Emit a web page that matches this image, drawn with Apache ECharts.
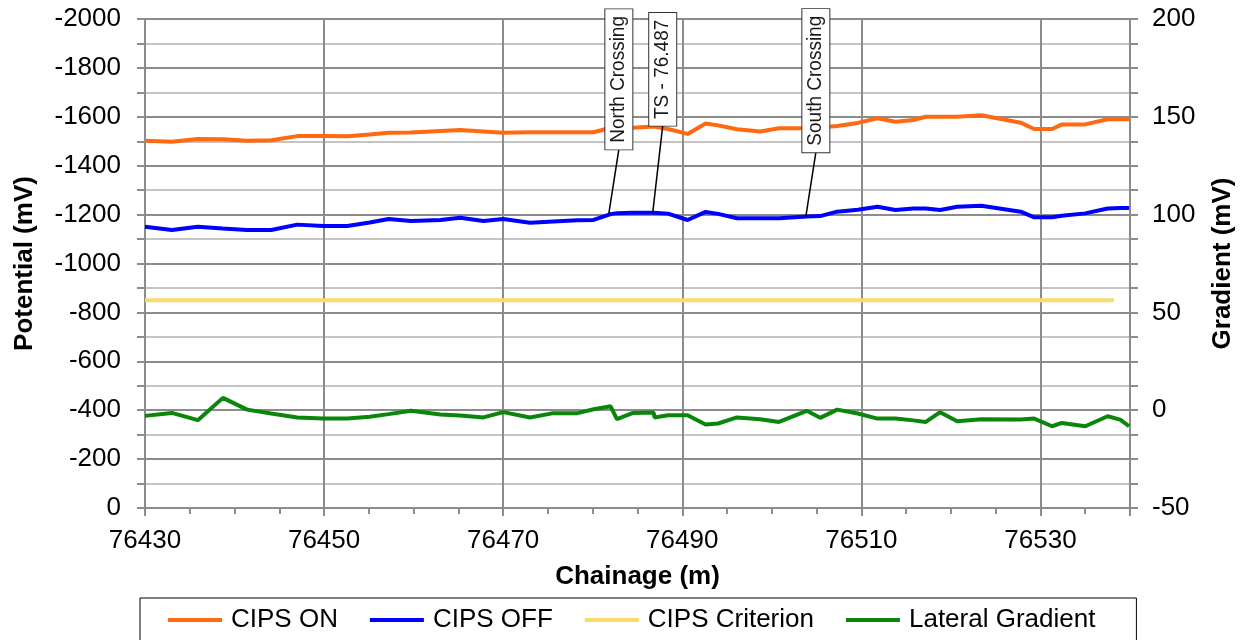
<!DOCTYPE html>
<html>
<head>
<meta charset="utf-8">
<title>CIPS Survey</title>
<script src="https://cdn.jsdelivr.net/npm/echarts@6/dist/echarts.min.js"></script>
<style>
  html, body { margin: 0; padding: 0; background: #ffffff; }
  #chart { width: 1245px; height: 640px; }
</style>
</head>
<body>
<div id="chart"></div>
<script>
// Survey chainage (m) shared by all survey traces
const chainage = [
  76430.0, 76433.0, 76435.9, 76438.7, 76441.4, 76444.1, 76447.0, 76449.9, 76452.6, 76455.1,
  76457.2, 76459.7, 76463.0, 76465.2, 76467.8, 76470.0, 76473.0, 76475.6, 76478.3, 76480.1,
  76482.0, 76482.7, 76484.5, 76486.8, 76486.9, 76488.4, 76490.6, 76492.6, 76494.0, 76496.1,
  76498.7, 76500.8, 76503.9, 76505.4, 76507.3, 76509.6, 76511.8, 76513.8, 76515.8, 76517.2,
  76518.8, 76520.7, 76523.4, 76527.8, 76529.3, 76531.3, 76532.4, 76535.0, 76537.5, 76538.9,
  76539.9
];

// ON potential (mV)
const cipsOn = [
  -1502, -1498, -1509, -1508, -1502, -1504, -1521, -1521, -1520, -1528,
  -1535, -1536, -1542, -1546, -1540, -1535, -1537, -1537, -1537, -1537,
  -1555, -1556, -1555, -1560, -1560, -1550, -1530, -1573, -1565, -1549,
  -1540, -1553, -1553, -1556, -1562, -1575, -1594, -1580, -1587, -1600,
  -1600, -1600, -1606, -1576, -1550, -1550, -1569, -1569, -1590, -1590,
  -1590
];

// Instant-OFF potential (mV)
const cipsOff = [
  -1150, -1137, -1150, -1143, -1137, -1137, -1159, -1153, -1153, -1168,
  -1182, -1174, -1178, -1187, -1174, -1182, -1167, -1172, -1177, -1178,
  -1202, -1206, -1208, -1208, -1208, -1204, -1178, -1211, -1203, -1185,
  -1185, -1185, -1192, -1194, -1212, -1220, -1232, -1219, -1225, -1225,
  -1219, -1232, -1236, -1212, -1189, -1189, -1195, -1205, -1225, -1227,
  -1227
];

// Lateral gradient (mV), right axis
const lateralGradient = [
  -2.9, -1.4, -5.1, 6.3, 0.3, -1.7, -3.7, -4.3, -4.3, -3.4,
  -2.0, -0.3, -2.2, -2.7, -3.7, -1.0, -3.7, -1.5, -1.5, 0.5,
  2.0, -4.6, -1.4, -1.2, -3.7, -2.6, -2.6, -7.3, -6.8, -3.7,
  -4.6, -6.0, -0.3, -3.9, 0.3, -1.7, -4.3, -4.3, -5.2, -6.0,
  -1.0, -5.6, -4.6, -4.8, -4.3, -8.2, -6.5, -8.2, -3.1, -4.8,
  -8.2
];

// Protection criterion (mV)
const criterionChainage = [76430, 76538.2];
const criterionValue = [-850, -850];

// Site features along the route
const calloutNames = ['North Crossing', 'TS - 76.487', 'South Crossing'];
const calloutChainage = [76481.8, 76486.7, 76503.8];
const calloutPotential = [-1205, -1208, -1193];

// Axis ranges
const xMin = 76430, xMax = 76540, xStep = 20;
const potMin = -2000, potMax = 0, potStep = 200;
const gradMin = -50, gradMax = 200, gradStep = 50;

const FONT = '"Liberation Sans", Arial, Helvetica, sans-serif';
const pairs = (xs, ys) => xs.map((x, i) => [x, ys[i]]);
const plain = v => String(Math.round(v));

const chart = echarts.init(document.getElementById('chart'), null, { renderer: 'canvas' });

const majorGrid = '#8c8c8c';
const minorGrid = '#c4c4c4';

chart.setOption({
  animation: false,
  backgroundColor: '#ffffff',
  textStyle: { fontFamily: FONT },
  grid: { left: 145, right: 115, top: 19, bottom: 132, containLabel: false },
  legend: {
    data: ['CIPS ON', 'CIPS OFF', 'CIPS Criterion', 'Lateral Gradient'],
    left: 140,
    top: 598,
    padding: [9, 41, 14, 28],
    itemGap: 32,
    itemWidth: 54,
    itemHeight: 4,
    icon: 'rect',
    borderColor: '#000000',
    borderWidth: 1,
    textStyle: { fontFamily: FONT, fontSize: 26, color: '#000000', padding: [0, 0, 0, 4] }
  },
  xAxis: {
    type: 'value',
    min: xMin,
    max: xMax,
    interval: xStep,
    name: 'Chainage (m)',
    nameLocation: 'middle',
    nameGap: 56,
    nameTextStyle: { fontFamily: FONT, fontSize: 26, fontWeight: 'bold', color: '#000000' },
    axisLine: { show: true, onZero: false, lineStyle: { color: majorGrid, width: 2 } },
    axisTick: { show: true, length: 8, lineStyle: { color: majorGrid, width: 2 } },
    minorTick: { show: true, splitNumber: 4, length: 6, lineStyle: { color: majorGrid, width: 2 } },
    axisLabel: {
      margin: 20, fontFamily: FONT, fontSize: 26, color: '#000000',
      showMaxLabel: false,
      formatter: plain
    },
    splitLine: { show: true, lineStyle: { color: majorGrid, width: 2 } }
  },
  yAxis: [
    {
      type: 'value',
      position: 'left',
      inverse: true,
      min: potMin,
      max: potMax,
      interval: potStep,
      name: 'Potential (mV)',
      nameLocation: 'middle',
      nameRotate: 90,
      nameGap: 107,
      nameTextStyle: { fontFamily: FONT, fontSize: 26, fontWeight: 'bold', color: '#000000' },
      axisLine: { show: true, lineStyle: { color: majorGrid, width: 2 } },
      axisTick: { show: true, length: 8, lineStyle: { color: majorGrid, width: 2 } },
      minorTick: { show: true, splitNumber: 2, length: 8, lineStyle: { color: majorGrid, width: 2 } },
      axisLabel: { margin: 24, fontFamily: FONT, fontSize: 26, color: '#000000', formatter: plain },
      splitLine: { show: true, lineStyle: { color: majorGrid, width: 2 } },
      minorSplitLine: { show: true, lineStyle: { color: minorGrid, width: 2 } }
    },
    {
      type: 'value',
      position: 'right',
      min: gradMin,
      max: gradMax,
      interval: gradStep,
      name: 'Gradient (mV)',
      nameLocation: 'middle',
      nameRotate: 90,
      nameGap: 80,
      nameTextStyle: { fontFamily: FONT, fontSize: 26, fontWeight: 'bold', color: '#000000' },
      axisLine: { show: true, lineStyle: { color: majorGrid, width: 2 } },
      axisTick: { show: true, length: 8, lineStyle: { color: majorGrid, width: 2 } },
      minorTick: { show: true, splitNumber: 4, length: 8, lineStyle: { color: majorGrid, width: 2 } },
      axisLabel: { margin: 22, fontFamily: FONT, fontSize: 26, color: '#000000', formatter: plain },
      splitLine: { show: false }
    }
  ],
  series: [
    {
      name: 'CIPS Criterion',
      type: 'line',
      yAxisIndex: 0,
      data: pairs(criterionChainage, criterionValue),
      showSymbol: false,
      symbol: 'none',
      color: '#fbd96b',
      lineStyle: { color: '#fbd96b', width: 4 },
      z: 3
    },
    {
      name: 'CIPS ON',
      type: 'line',
      yAxisIndex: 0,
      data: pairs(chainage, cipsOn),
      showSymbol: false,
      symbol: 'none',
      color: '#ff6a10',
      lineStyle: { color: '#ff6a10', width: 4 },
      z: 4
    },
    {
      name: 'CIPS OFF',
      type: 'line',
      yAxisIndex: 0,
      data: pairs(chainage, cipsOff),
      showSymbol: false,
      symbol: 'none',
      color: '#0000ff',
      lineStyle: { color: '#0000ff', width: 4 },
      z: 4
    },
    {
      name: 'Lateral Gradient',
      type: 'line',
      yAxisIndex: 1,
      data: pairs(chainage, lateralGradient),
      showSymbol: false,
      symbol: 'none',
      color: '#0a860a',
      lineStyle: { color: '#0a860a', width: 4 },
      z: 4
    },
    {
      name: 'Callouts',
      type: 'custom',
      yAxisIndex: 0,
      silent: true,
      clip: false,
      z: 10,
      encode: { x: 0, y: 1 },
      data: pairs(calloutChainage, calloutPotential),
      renderItem: function (params, api) {
        const p = api.coord([api.value(0), api.value(1)]);
        const i = params.dataIndex;
        const lift = i === 1 ? 87 : 64;
        const bx = p[0] + 10;
        const by = p[1] - lift;
        return {
          type: 'group',
          children: [
            {
              type: 'line',
              shape: { x1: p[0], y1: p[1], x2: bx, y2: by },
              style: { stroke: '#000000', lineWidth: 1.5 }
            },
            {
              type: 'text',
              x: bx,
              y: by,
              rotation: Math.PI / 2,
              scaleX: 0.95,
              style: {
                text: calloutNames[i],
                fontFamily: FONT,
                fontSize: 20,
                fill: '#1a1a1a',
                align: 'left',
                verticalAlign: 'middle',
                backgroundColor: '#ffffff',
                borderColor: '#333333',
                borderWidth: 1,
                padding: [4, 7, 3, 7]
              }
            }
          ]
        };
      }
    }
  ]
});
</script>
</body>
</html>
